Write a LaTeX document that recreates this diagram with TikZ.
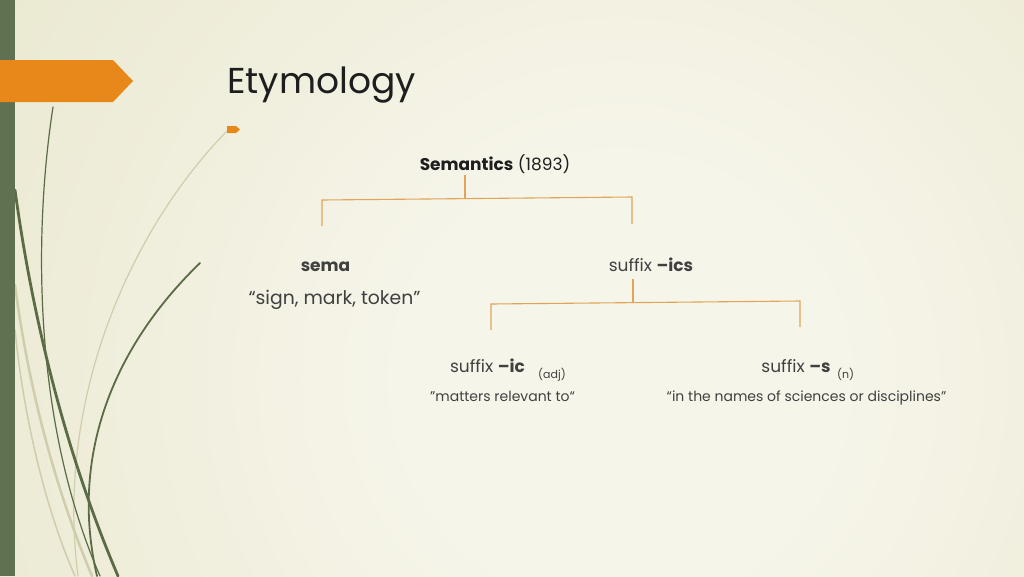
\documentclass[tikz,border=0pt]{standalone}
\usepackage{fontspec}
\setmainfont{Poppins}
\definecolor{bgin}{HTML}{F6F5EA}
\definecolor{bgout}{HTML}{E1DFBC}
\definecolor{barg}{HTML}{5F7150}
\definecolor{orng}{HTML}{E8871A}
\definecolor{lnc}{HTML}{E2A458}
\definecolor{txt}{HTML}{404040}
\definecolor{txtd}{HTML}{1E1E1E}
\definecolor{blade}{HTML}{5A6B45}
\definecolor{bladelt}{HTML}{D0CDAC}
\pgfdeclareradialshading{bgshade}{\pgfpoint{0bp}{0bp}}{color(0bp)=(bgin); color(8bp)=(bgin); color(44bp)=(bgout); color(75bp)=(bgout)}
\tikzset{
  conn/.style={draw=lnc, line width=1.1pt},
  lbl/.style={inner sep=0pt, anchor=base, text=txt, font=\fontsize{17}{20}\selectfont},
  quote/.style={inner sep=0pt, anchor=base, text=txt, font=\fontsize{14}{17}\selectfont},
  tiny/.style={inner sep=0pt, anchor=base west, text=txt, font=\fontsize{11}{13}\selectfont},
  darkblade/.style={draw=blade, line cap=round},
  lightblade/.style={draw=bladelt, line cap=round},
}
\begin{document}
\begin{tikzpicture}[x=1pt,y=-1pt]
\useasboundingbox (0,0) rectangle (1024,576);
\begin{scope}
\clip (0,0) rectangle (1024,576);
\fill[bgout] (0,0) rectangle (1024,576);
\shade[shading=bgshade] (-40,-280) rectangle (1280,1040);
% grass blades
\draw[lightblade, line width=2.5pt] (15,285) .. controls (30,400) and (60,500) .. (92,576);
\draw[lightblade, line width=1.5pt] (15,330) .. controls (25,430) and (50,520) .. (75,576);
\draw[lightblade, line width=1.2pt] (227,131) .. controls (130,230) and (55,400) .. (78,576);
\draw[darkblade, line width=1.2pt] (53,107) .. controls (34,230) and (32,420) .. (100,576);
\draw[darkblade, line width=2.8pt] (15,190) .. controls (30,300) and (60,440) .. (118,576);
\draw[darkblade, line width=1.8pt] (200,263) .. controls (110,350) and (70,460) .. (97,576);
\end{scope}
% left bar and orange tab
\fill[barg] (0,0) rectangle (15,576);
\fill[orng] (0,60) -- (113,60) -- (133,81) -- (113,102) -- (0,102) -- cycle;
\fill[orng] (227,126) -- (236,126) -- (240,129.5) -- (236,133) -- (227,133) -- cycle;
% title
\node[inner sep=0pt, anchor=base west, text=txtd, font=\fontsize{36}{40}\selectfont] (title) at (227,93) {Etymology};
% tree text
\node[lbl, text=txtd] (sem) at (495,170) {\textbf{Semantics} (1893)};
\node[lbl] (sema) at (325.5,271) {\textbf{sema}};
\node[lbl, font=\fontsize{18.8}{22}\selectfont] (sign) at (334.5,304) {“sign, mark, token"};
\node[lbl] (ics) at (651,271) {suffix \textbf{–ics}};
\node[lbl] (ic) at (487.5,372) {suffix \textbf{–ic}};
\node[tiny] (adj) at (538,378) {(adj)};
\node[quote] (matters) at (502.5,401) {"matters relevant to“};
\node[lbl] (s) at (796,372) {suffix \textbf{–s}};
\node[tiny] (n) at (837,378) {(n)};
\node[quote] (names) at (806.5,401) {“in the names of sciences or disciplines”};
% connectors
\coordinate (a1) at (465,175);
\coordinate (a2) at (465,199);
\coordinate (a3) at (322,200);
\coordinate (a4) at (322,226);
\coordinate (a5) at (632,197);
\coordinate (a6) at (632,224);
\draw[conn] (a1) -- (a2);
\draw[conn] (a4) -- (a3) -- (a5) -- (a6);
\coordinate (b1) at (633,279);
\coordinate (b2) at (633,302);
\coordinate (b3) at (491,304);
\coordinate (b4) at (491,330);
\coordinate (b5) at (800,301);
\coordinate (b6) at (800,327);
\draw[conn] (b1) -- (b2);
\draw[conn] (b4) -- (b3) -- (b5) -- (b6);
\end{tikzpicture}
\end{document}
